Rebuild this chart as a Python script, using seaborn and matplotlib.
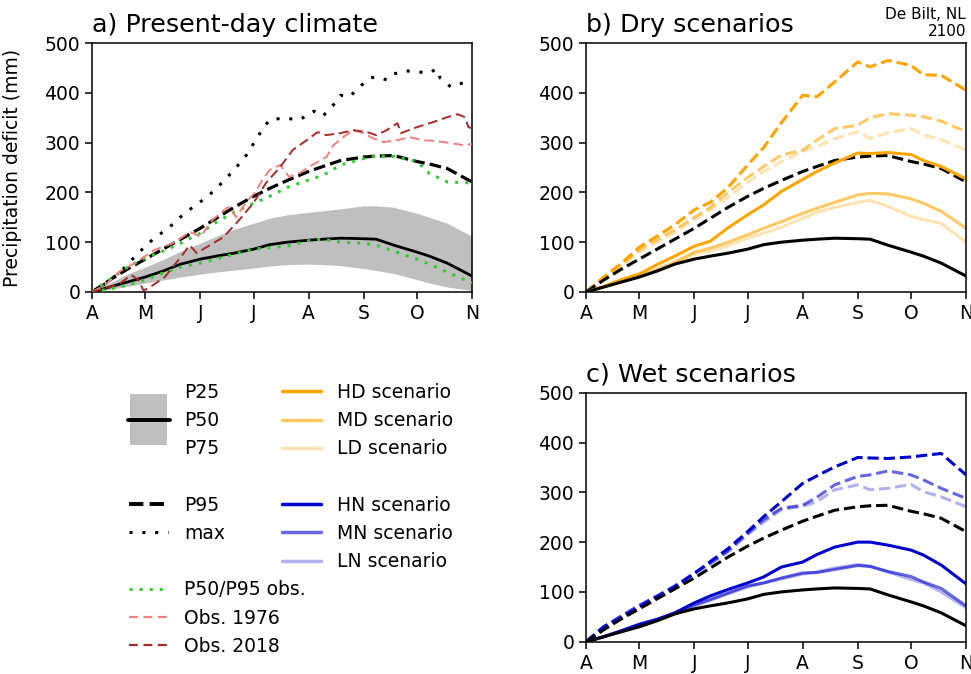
#!/usr/bin/env python3
"""
Precipitation deficit De Bilt: present-day climate vs. dry / wet scenarios
"""

import matplotlib
matplotlib.use('Agg')
import matplotlib.pyplot as plt
import seaborn as sns
from matplotlib.lines import Line2D
from matplotlib.patches import Rectangle
from matplotlib.legend_handler import HandlerBase

# ---- data (days since 1 April) ----
days = [0, 10, 20, 30, 40, 50, 61, 70, 80, 91, 100, 110, 122, 130, 140, 153, 160, 170, 183, 190, 200, 214]
month_days = [0, 30, 61, 91, 122, 153, 183, 214]
month_labels = ['A', 'M', 'J', 'J', 'A', 'S', 'O', 'N']

p25 = [0, 5, 11, 18, 24, 30, 36, 40, 44, 48, 52, 55, 56, 55, 53, 47, 43, 37, 25, 18, 10, 3]
p50 = [0, 10, 20, 30, 42, 56, 66, 72, 78, 86, 95, 100, 104, 106, 108, 107, 106, 94, 80, 72, 58, 32]
p75 = [0, 18, 36, 50, 65, 82, 98, 112, 126, 138, 148, 155, 160, 163, 167, 173, 173, 170, 158, 150, 138, 112]
p95 = [0, 24, 46, 66, 86, 106, 128, 148, 170, 192, 208, 224, 242, 252, 264, 271, 273, 274, 262, 257, 248, 221]

obs_p50 = [0, 6, 14, 24, 38, 50, 58, 66, 76, 86, 89, 92, 103, 106, 100, 98, 94, 82, 66, 56, 40, 18]
obs_p95 = [0, 25, 50, 68, 82, 98, 118, 140, 160, 178, 192, 210, 225, 234, 255, 268, 273, 272, 262, 238, 221, 219]

days_max = [0, 5, 16, 26, 35, 43, 50, 57, 65, 72, 80, 87, 95, 100, 108, 117, 125, 130, 136, 140, 145,
            152, 157, 160, 166, 170, 177, 183, 190, 194, 196, 202, 209, 214]
p_max = [0, 10, 40, 78, 108, 128, 151, 171, 191, 215, 245, 275, 321, 346, 349, 346, 363, 353, 376, 395, 392,
         416, 430, 432, 426, 438, 444, 442, 440, 448, 430, 412, 420, 421]

days_1976 = [0, 8, 15, 24, 35, 47, 55, 61, 68, 76, 78, 81, 87, 92, 96, 100, 106, 111, 117, 124, 132, 136,
             143, 147, 153, 158, 164, 172, 179, 186, 194, 202, 209, 214]
obs_1976 = [0, 15, 40, 58, 84, 100, 121, 111, 145, 169, 171, 150, 181, 201, 225, 245, 255, 231, 239, 255, 271, 295,
            315, 325, 319, 309, 301, 305, 311, 305, 303, 299, 295, 297]

days_2018 = [0, 8, 15, 22, 26, 29, 32, 41, 50, 55, 59, 65, 74, 83, 91, 98, 106, 113, 121, 127, 132, 140,
             147, 155, 160, 166, 172, 174, 183, 192, 200, 206, 210, 212, 214]
obs_2018 = [0, 8, 15, 34, 25, 3, 8, 30, 70, 94, 78, 91, 110, 145, 179, 219, 251, 285, 305, 321, 315, 319,
            325, 321, 315, 325, 339, 319, 331, 341, 351, 357, 351, 331, 329]

# dry scenarios
hd_p50 = [0, 11, 25, 36, 55, 72, 92, 102, 129, 155, 175, 202, 226, 242, 259, 279, 278, 280, 276, 264, 252, 227]
md_p50 = [0, 10, 21, 31, 45, 60, 80, 88, 100, 115, 128, 141, 158, 168, 180, 195, 198, 197, 187, 178, 162, 128]
ld_p50 = [0, 10, 20, 30, 43, 56, 76, 82, 93, 108, 118, 130, 148, 160, 170, 180, 184, 172, 152, 145, 138, 100]
hd_p95 = [0, 30, 58, 90, 112, 135, 165, 180, 210, 255, 290, 340, 395, 392, 422, 462, 452, 465, 455, 436, 435, 405]
md_p95 = [0, 28, 55, 85, 105, 125, 150, 170, 200, 230, 252, 275, 285, 305, 328, 335, 350, 358, 355, 352, 343, 322]
ld_p95 = [0, 27, 52, 80, 100, 120, 145, 165, 190, 220, 242, 262, 282, 292, 308, 322, 308, 320, 328, 315, 306, 285]

# wet scenarios
hn_p50 = [0, 10, 22, 35, 45, 58, 78, 92, 105, 118, 130, 150, 160, 175, 190, 200, 200, 194, 184, 174, 154, 116]
mn_p50 = [0, 10, 22, 34, 44, 56, 74, 85, 98, 112, 118, 128, 138, 139, 145, 153, 151, 141, 131, 120, 107, 72]
ln_p50 = [0, 10, 22, 34, 44, 56, 72, 83, 96, 110, 118, 126, 136, 140, 148, 155, 152, 140, 125, 118, 100, 68]
hn_p95 = [0, 30, 49, 70, 90, 110, 137, 161, 187, 221, 251, 281, 318, 333, 351, 370, 369, 368, 371, 374, 378, 335]
mn_p95 = [0, 30, 52, 73, 92, 112, 138, 158, 183, 218, 245, 268, 274, 290, 315, 332, 335, 343, 335, 325, 308, 288]
ln_p95 = [0, 30, 52, 73, 92, 112, 136, 156, 180, 215, 240, 265, 272, 281, 305, 315, 305, 308, 316, 301, 291, 271]

ORANGE = '#ffa500'
BLUE = '#0000cd'
GREEN = '#32cd32'
PINK = '#f08080'
BROWN = '#a52a2a'
BAND = '#bfbfbf'


class BandHandler(HandlerBase):
    """Grey P25-P75 box spanning three legend rows with P50 line in the middle."""
    def create_artists(self, legend, orig_handle, xdescent, ydescent, width, height, fontsize, trans):
        cy = (height - ydescent) / 2
        half = 1.36 * fontsize
        rect = Rectangle((-xdescent + 1, cy - half), width - 2, 2 * half,
                         facecolor=BAND, edgecolor='none', transform=trans)
        line = Line2D([-xdescent - 1, -xdescent + width + 1], [cy, cy], color='k', lw=2.8, transform=trans)
        return [rect, line]


def style_axis(ax):
    ax.set_xlim(0, 214)
    ax.set_ylim(0, 500)
    ax.set_xticks(month_days)
    ax.set_xticklabels(month_labels)
    ax.set_yticks([0, 100, 200, 300, 400, 500])
    ax.set_xlabel('')
    ax.set_ylabel('')


def main():
    sns.set_style('ticks', rc={'axes.edgecolor': 'black', 'xtick.color': 'black', 'ytick.color': 'black',
                              'text.color': 'black', 'axes.labelcolor': 'black'})
    plt.rcParams['font.family'] = ['DejaVu Sans']
    plt.rcParams['axes.linewidth'] = 1.1
    plt.rcParams['xtick.major.size'] = 5
    plt.rcParams['ytick.major.size'] = 5
    plt.rcParams['xtick.major.width'] = 1.1
    plt.rcParams['ytick.major.width'] = 1.1
    plt.rcParams['xtick.labelsize'] = 13.5
    plt.rcParams['ytick.labelsize'] = 13.5

    fig = plt.figure(figsize=(9.71, 6.74), dpi=100)
    ax_a = fig.add_axes([0.0947, 0.5668, 0.3914, 0.3694])
    ax_b = fig.add_axes([0.6035, 0.5668, 0.3914, 0.3694])
    ax_c = fig.add_axes([0.6035, 0.0479, 0.3914, 0.3694])

    dash = (0, (3.7, 1.6))
    dot_max = (0, (1, 3.2))
    dot_obs = (0, (1, 2.3))

    # a) present-day climate
    ax_a.fill_between(days, p25, p75, color=BAND, lw=0, zorder=1)
    sns.lineplot(x=days, y=p50, ax=ax_a, color='k', lw=2, zorder=3)
    sns.lineplot(x=days, y=p95, ax=ax_a, color='k', lw=2.3, linestyle=dash, zorder=3)
    sns.lineplot(x=days_max, y=p_max, ax=ax_a, color='k', lw=2.2, linestyle=dot_max, zorder=3)
    sns.lineplot(x=days, y=obs_p50, ax=ax_a, color=GREEN, lw=2.2, linestyle=dot_obs, zorder=4)
    sns.lineplot(x=days, y=obs_p95, ax=ax_a, color=GREEN, lw=2.2, linestyle=dot_obs, zorder=4)
    sns.lineplot(x=days_1976, y=obs_1976, ax=ax_a, color=PINK, lw=1.4, linestyle=(0, (5, 2.5)), zorder=4)
    sns.lineplot(x=days_2018, y=obs_2018, ax=ax_a, color=BROWN, lw=1.4, linestyle=(0, (5, 2.5)), zorder=4)
    style_axis(ax_a)
    ax_a.set_ylabel('Precipitation deficit (mm)', fontsize=13.5)
    ax_a.yaxis.set_label_coords(-0.184, 0.5)
    ax_a.set_title('a) Present-day climate', loc='left', fontsize=18.3, pad=8)

    # b) dry scenarios
    for vals, a in [(ld_p95, 0.3), (md_p95, 0.6), (hd_p95, 1.0)]:
        sns.lineplot(x=days, y=vals, ax=ax_b, color=ORANGE, alpha=a, lw=2.2, linestyle=dash)
    sns.lineplot(x=days, y=p95, ax=ax_b, color='k', lw=2.2, linestyle=dash)
    for vals, a in [(ld_p50, 0.3), (md_p50, 0.6), (hd_p50, 1.0)]:
        sns.lineplot(x=days, y=vals, ax=ax_b, color=ORANGE, alpha=a, lw=2.2)
    sns.lineplot(x=days, y=p50, ax=ax_b, color='k', lw=2.2)
    style_axis(ax_b)
    ax_b.set_title('b) Dry scenarios', loc='left', fontsize=18.3, pad=8)

    # c) wet scenarios
    for vals, a in [(ln_p95, 0.3), (mn_p95, 0.6), (hn_p95, 1.0)]:
        sns.lineplot(x=days, y=vals, ax=ax_c, color=BLUE, alpha=a, lw=2.2, linestyle=dash)
    sns.lineplot(x=days, y=p95, ax=ax_c, color='k', lw=2.2, linestyle=dash)
    for vals, a in [(ln_p50, 0.3), (mn_p50, 0.6), (hn_p50, 1.0)]:
        sns.lineplot(x=days, y=vals, ax=ax_c, color=BLUE, alpha=a, lw=2.2)
    sns.lineplot(x=days, y=p50, ax=ax_c, color='k', lw=2.2)
    style_axis(ax_c)
    ax_c.set_title('c) Wet scenarios', loc='left', fontsize=18.3, pad=8)

    fig.text(0.995, 0.99, 'De Bilt, NL\n2100', ha='right', va='top', fontsize=11, linespacing=1.15)

    # legends
    blank = Line2D([], [], color='none')
    band_key = object()
    left_handles = [blank, band_key, blank, blank,
                    Line2D([], [], color='k', lw=2.8, linestyle=dash),
                    Line2D([], [], color='k', lw=2.2, linestyle=dot_max),
                    blank,
                    Line2D([], [], color=GREEN, lw=2.2, linestyle=dot_obs),
                    Line2D([], [], color=PINK, lw=1.6, linestyle=(0, (4, 2.5))),
                    Line2D([], [], color=BROWN, lw=1.6, linestyle=(0, (4, 2.5)))]
    left_labels = ['P25', 'P50', 'P75', ' ', 'P95', 'max', ' ', 'P50/P95 obs.', 'Obs. 1976', 'Obs. 2018']
    leg_kw = dict(loc='upper left', frameon=False, borderpad=0, borderaxespad=0, fontsize=13.5,
                  handlelength=2.1, handletextpad=0.85, labelspacing=0.49)
    fig.legend(left_handles, left_labels, bbox_to_anchor=(129 / 971, 1 - 383 / 674),
               handler_map={band_key: BandHandler()}, **leg_kw)

    right_handles = [Line2D([], [], color=ORANGE, alpha=a, lw=2.5) for a in (1.0, 0.6, 0.3)]
    right_handles += [blank]
    right_handles += [Line2D([], [], color=BLUE, alpha=a, lw=2.5) for a in (1.0, 0.6, 0.3)]
    right_labels = ['HD scenario', 'MD scenario', 'LD scenario', ' ', 'HN scenario', 'MN scenario', 'LN scenario']
    fig.legend(right_handles, right_labels, bbox_to_anchor=(282 / 971, 1 - 383 / 674), **leg_kw)

    fig.savefig('out.png', dpi=100)
    plt.close(fig)


if __name__ == "__main__":
    main()
